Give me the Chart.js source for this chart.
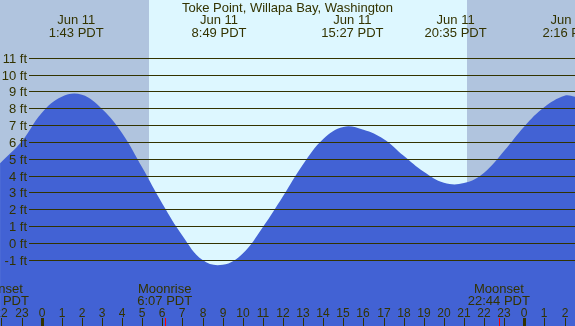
<!DOCTYPE html>
<html>
<head>
<meta charset="utf-8">
<title>Toke Point, Willapa Bay, Washington</title>
<script src="https://cdn.jsdelivr.net/npm/chart.js@4/dist/chart.umd.min.js"></script>
<style>
  html, body { margin:0; padding:0; background:#b0c4de; }
  #wrap { width:575px; height:326px; position:relative; }
</style>
</head>
<body>
<div id="wrap"><canvas id="tideChart"></canvas></div>
<script>
// ── DATA ────────────────────────────────────────────────
// hours from midnight Jun 11 (negative = Jun 10, >24 = Jun 12)
const tideHours = [-2.07, -1, 0, 1, 2, 3, 4, 5, 6, 7, 8, 9, 10, 11, 12, 13,
  14, 15, 16, 17, 18, 19, 20, 21, 22, 23, 24, 25, 26, 26.52];
const tideFeet  = [4.76, 6.05, 7.75, 8.72, 8.83, 7.98, 6.55, 4.5, 2.35, 0.45, -1.0, -1.28, -0.6, 0.97, 2.8, 4.7,
  6.2, 6.92, 6.75, 6.2, 5.2, 4.25, 3.6, 3.58, 4.2, 5.5, 6.95, 8.1, 8.77, 8.72];

const extremaHours = [1.717, 8.817, 15.45, 20.583, 26.267];
const extremaDates = ['Jun 11', 'Jun 11', 'Jun 11', 'Jun 11', 'Jun 12'];
const extremaTimes = ['1:43 PDT', '8:49 PDT', '15:27 PDT', '20:35 PDT', '2:16 PDT'];

const moonHours  = [-2.18, 6.117, 22.733];
const moonEvents = ['Moonset', 'Moonrise', 'Moonset'];
const moonTimes  = ['21:49 PDT', '6:07 PDT', '22:44 PDT'];

const sunriseHour = 5.336;
const sunsetHour  = 21.15;

const feetTicks = [-1, 0, 1, 2, 3, 4, 5, 6, 7, 8, 9, 10, 11];
const hourTicks = [-2, -1, 0, 1, 2, 3, 4, 5, 6, 7, 8, 9, 10, 11, 12, 13, 14, 15, 16, 17, 18,
  19, 20, 21, 22, 23, 24, 25, 26];

const TITLE = 'Toke Point, Willapa Bay, Washington';

// ── STYLE ───────────────────────────────────────────────
const C = {
  night: '#b0c4de',
  day:   '#ddf7ff',
  water: '#4262d4',
  ink:   '#333300',
  moon:  '#ff0000',
};
const FONT = '13px "Liberation Sans", Arial, sans-serif';
const FONT_SMALL = '12px "Liberation Sans", Arial, sans-serif';

// ── PLUGINS ─────────────────────────────────────────────
const backdrop = {
  id: 'backdrop',
  beforeDraw: (chart) => {
    const { ctx, chartArea: a, scales: { x } } = chart;
    ctx.save();
    ctx.fillStyle = C.night;
    ctx.fillRect(a.left, a.top, a.right - a.left, a.bottom - a.top);
    const x0 = Math.round(x.getPixelForValue(sunriseHour));
    const x1 = Math.round(x.getPixelForValue(sunsetHour));
    ctx.fillStyle = C.day;
    ctx.fillRect(x0, a.top, x1 - x0, a.bottom - a.top);
    ctx.restore();
  }
};

const overlay = {
  id: 'overlay',
  afterDatasetsDraw: (chart) => {
    const { ctx, chartArea: a, scales: { x, y } } = chart;
    ctx.save();

    // grid lines + foot labels
    ctx.strokeStyle = C.ink;
    ctx.lineWidth = 1;
    ctx.fillStyle = C.ink;
    ctx.font = FONT;
    ctx.textAlign = 'right';
    ctx.textBaseline = 'alphabetic';
    feetTicks.forEach(f => {
      const py = Math.floor(y.getPixelForValue(f)) + 0.5;
      ctx.beginPath();
      ctx.moveTo(29, py);
      ctx.lineTo(a.right, py);
      ctx.stroke();
      ctx.fillText(`${f} ft`, 27, py + 4);
    });

    // title + high/low labels
    ctx.textAlign = 'center';
    ctx.fillText(TITLE, (a.left + a.right) / 2, 12);
    extremaHours.forEach((h, i) => {
      const px = x.getPixelForValue(h);
      ctx.fillText(extremaDates[i], px, 24);
      ctx.fillText(extremaTimes[i], px, 37);
    });

    // moon events
    moonHours.forEach((h, i) => {
      const px = x.getPixelForValue(h);
      ctx.fillText(moonEvents[i], px, 293);
      ctx.fillText(moonTimes[i], px, 304.5);
      ctx.fillStyle = C.moon;
      ctx.fillRect(Math.round(px), 318, 1, a.bottom - 318);
      ctx.fillStyle = C.ink;
    });

    // hour ticks
    ctx.font = FONT_SMALL;
    hourTicks.forEach(h => {
      const px = Math.round(x.getPixelForValue(h));
      const hh = ((h % 24) + 24) % 24;
      ctx.fillText(String(hh), px, 316.5);
      if (hh === 0) ctx.fillRect(px - 1, 318, 3, a.bottom - 318);
      else ctx.fillRect(px, 318, 1, a.bottom - 318);
    });

    ctx.restore();
  }
};

// ── CHART ───────────────────────────────────────────────
const ctx = document.getElementById('tideChart').getContext('2d');
new Chart(ctx, {
  type: 'line',
  data: {
    datasets: [{
      data: tideHours.map((h, i) => ({ x: h, y: tideFeet[i] })),
      borderWidth: 0,
      borderColor: C.water,
      backgroundColor: C.water,
      pointRadius: 0,
      tension: 0.4,
      fill: 'start',
    }]
  },
  options: {
    responsive: true,
    maintainAspectRatio: false,
    animation: false,
    layout: { padding: 0 },
    plugins: { legend: { display: false }, tooltip: { enabled: false } },
    scales: {
      x: { type: 'linear', display: false, min: -2.074, max: 26.52 },
      y: { type: 'linear', display: false, min: -4.917, max: 14.465 },
    }
  },
  plugins: [backdrop, overlay]
});
</script>
</body>
</html>
